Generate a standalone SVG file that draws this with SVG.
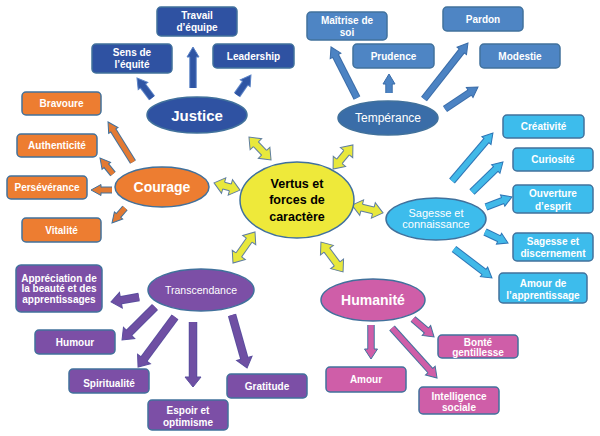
<svg xmlns="http://www.w3.org/2000/svg" width="600" height="436" viewBox="0 0 600 436">
<style>
text{font-family:"Liberation Sans",Arial,sans-serif;text-anchor:middle}
.bt{fill:#fff;font-size:10px;font-weight:bold}
.shape{stroke:#41719C;stroke-width:1.5}
.J{fill:#2F52A2}.T{fill:#4E85C4}.TE{fill:#3A6DA8}.S{fill:#3DBCEC}.C{fill:#ED7D31}.H{fill:#CF5EA8}.R{fill:#7C4FA6}.Y{fill:#EEE93A}
line{fill:none}
.uJ{stroke:#5B83C6;stroke-width:7.5}.fJ{stroke:#2F55A4;stroke-width:5.5;marker-end:url(#mJ)}
.uT{stroke:#3A6CA8;stroke-width:7.5}.fT{stroke:#4C83C3;stroke-width:5.5;marker-end:url(#mT)}
.uS{stroke:#2E75B6;stroke-width:7.5}.fS{stroke:#41B9E8;stroke-width:5.5;marker-end:url(#mS)}
.uC{stroke:#41719C;stroke-width:7}.fC{stroke:#E27A33;stroke-width:5;marker-end:url(#mC)}
.uH{stroke:#41719C;stroke-width:7.5}.fH{stroke:#CF5EA8;stroke-width:5.5;marker-end:url(#mH)}
.uR{stroke:#5A4E9E;stroke-width:8.5}.fR{stroke:#6F4FA3;stroke-width:6.5;marker-end:url(#mR)}
.uY{stroke:#5F7EA0;stroke-width:8}.fY{stroke:#E8E83C;stroke-width:6;marker-start:url(#mY);marker-end:url(#mY)}
</style>
<defs>
<marker id="mJ" markerUnits="userSpaceOnUse" viewBox="-2 -9 14 18" markerWidth="14" markerHeight="18" refX="1" refY="0" orient="auto"><path d="M0,-3 L0,-6 L10,0 L0,6 L0,3" fill="#2F55A4" stroke="#5B83C6" stroke-width="1"/></marker>
<marker id="mT" markerUnits="userSpaceOnUse" viewBox="-2 -9 14 18" markerWidth="14" markerHeight="18" refX="1" refY="0" orient="auto"><path d="M0,-3 L0,-6 L10,0 L0,6 L0,3" fill="#4C83C3" stroke="#3A6CA8" stroke-width="1"/></marker>
<marker id="mS" markerUnits="userSpaceOnUse" viewBox="-2 -9 14 18" markerWidth="14" markerHeight="18" refX="1" refY="0" orient="auto"><path d="M0,-3 L0,-6 L10,0 L0,6 L0,3" fill="#41B9E8" stroke="#2E75B6" stroke-width="1"/></marker>
<marker id="mC" markerUnits="userSpaceOnUse" viewBox="-2 -9 14 18" markerWidth="14" markerHeight="18" refX="1" refY="0" orient="auto"><path d="M0,-2.5 L0,-5.5 L10,0 L0,5.5 L0,2.5" fill="#E27A33" stroke="#41719C" stroke-width="1"/></marker>
<marker id="mH" markerUnits="userSpaceOnUse" viewBox="-2 -9 14 18" markerWidth="14" markerHeight="18" refX="1" refY="0" orient="auto"><path d="M0,-3 L0,-6.5 L10,0 L0,6.5 L0,3" fill="#CF5EA8" stroke="#41719C" stroke-width="1"/></marker>
<marker id="mR" markerUnits="userSpaceOnUse" viewBox="-2 -10 14 20" markerWidth="14" markerHeight="20" refX="1" refY="0" orient="auto"><path d="M0,-3.5 L0,-8 L10,0 L0,8 L0,3.5" fill="#6F4FA3" stroke="#5A4E9E" stroke-width="1"/></marker>
<marker id="mY" markerUnits="userSpaceOnUse" viewBox="-2 -10 14 20" markerWidth="14" markerHeight="20" refX="1" refY="0" orient="auto-start-reverse"><path d="M0,-3.5 L0,-8 L10,0 L0,8 L0,3.5" fill="#E8E83C" stroke="#5F7EA0" stroke-width="1"/></marker>
</defs>
<rect width="600" height="436" fill="#fff"/>

<g id="connectors">
<!-- Justice -->
<line class="uJ" x1="152" y1="98" x2="142.4" y2="85.2"/><line class="fJ" x1="152" y1="98" x2="142.4" y2="85.2"/>
<line class="uJ" x1="193" y1="88" x2="193" y2="56"/><line class="fJ" x1="193" y1="88" x2="193" y2="56"/>
<line class="uJ" x1="237" y1="95" x2="245.8" y2="82.4"/><line class="fJ" x1="237" y1="95" x2="245.8" y2="82.4"/>
<!-- Temperance -->
<line class="uT" x1="357" y1="98" x2="335.1" y2="55"/><line class="fT" x1="357" y1="98" x2="335.1" y2="55"/>
<line class="uT" x1="389" y1="93" x2="389" y2="83"/><line class="fT" x1="389" y1="93" x2="389" y2="83"/>
<line class="uT" x1="424" y1="99" x2="462.4" y2="50.1"/><line class="fT" x1="424" y1="99" x2="462.4" y2="50.1"/>
<line class="uT" x1="445" y1="109" x2="470.5" y2="92"/><line class="fT" x1="445" y1="109" x2="470.5" y2="92"/>
<!-- Sagesse -->
<line class="uS" x1="452" y1="181" x2="487.1" y2="139.8"/><line class="fS" x1="452" y1="181" x2="487.1" y2="139.8"/>
<line class="uS" x1="472" y1="192" x2="496.5" y2="168.3"/><line class="fS" x1="472" y1="192" x2="496.5" y2="168.3"/>
<line class="uS" x1="486" y1="207" x2="503.6" y2="200.2"/><line class="fS" x1="486" y1="207" x2="503.6" y2="200.2"/>
<line class="uS" x1="485" y1="232" x2="499.9" y2="239.1"/><line class="fS" x1="485" y1="232" x2="499.9" y2="239.1"/>
<line class="uS" x1="454" y1="249" x2="484.8" y2="272.5"/><line class="fS" x1="454" y1="249" x2="484.8" y2="272.5"/>
<!-- Courage -->
<line class="uC" x1="133" y1="162" x2="112.8" y2="129.6"/><line class="fC" x1="133" y1="162" x2="112.8" y2="129.6"/>
<line class="uC" x1="113" y1="174" x2="105.7" y2="165"/><line class="fC" x1="113" y1="174" x2="105.7" y2="165"/>
<line class="uC" x1="112" y1="190" x2="100" y2="190"/><line class="fC" x1="112" y1="190" x2="100" y2="190"/>
<line class="uC" x1="125" y1="208" x2="117.9" y2="216.2"/><line class="fC" x1="125" y1="208" x2="117.9" y2="216.2"/>
<!-- Humanite -->
<line class="uH" x1="371" y1="325" x2="371" y2="350"/><line class="fH" x1="371" y1="325" x2="371" y2="350"/>
<line class="uH" x1="392" y1="328" x2="431" y2="371.3"/><line class="fH" x1="392" y1="328" x2="431" y2="371.3"/>
<line class="uH" x1="413" y1="319" x2="427.2" y2="331.1"/><line class="fH" x1="413" y1="319" x2="427.2" y2="331.1"/>
<!-- Transcendance -->
<line class="uR" x1="139" y1="297" x2="119.9" y2="300.4"/><line class="fR" x1="139" y1="297" x2="119.9" y2="300.4"/>
<line class="uR" x1="155" y1="307" x2="128.4" y2="333.6"/><line class="fR" x1="155" y1="307" x2="128.4" y2="333.6"/>
<line class="uR" x1="175" y1="317" x2="143.4" y2="359.8"/><line class="fR" x1="175" y1="317" x2="143.4" y2="359.8"/>
<line class="uR" x1="193" y1="322" x2="193" y2="378"/><line class="fR" x1="193" y1="322" x2="193" y2="378"/>
<line class="uR" x1="232" y1="315" x2="244.6" y2="359.3"/><line class="fR" x1="232" y1="315" x2="244.6" y2="359.3"/>
<!-- Yellow double arrows -->
<line class="uY" x1="255.2" y1="143.5" x2="264.8" y2="153.5"/><line class="fY" x1="255.2" y1="143.5" x2="264.8" y2="153.5"/>
<line class="uY" x1="347.2" y1="151.9" x2="338.8" y2="162.1"/><line class="fY" x1="347.2" y1="151.9" x2="338.8" y2="162.1"/>
<line class="uY" x1="222.7" y1="185.3" x2="231.3" y2="187.7"/><line class="fY" x1="222.7" y1="185.3" x2="231.3" y2="187.7"/>
<line class="uY" x1="360.7" y1="207.3" x2="374.3" y2="210.7"/><line class="fY" x1="360.7" y1="207.3" x2="374.3" y2="210.7"/>
<line class="uY" x1="249.8" y1="239.3" x2="238.2" y2="255.7"/><line class="fY" x1="249.8" y1="239.3" x2="238.2" y2="255.7"/>
<line class="uY" x1="326.3" y1="249.3" x2="337.7" y2="264.7"/><line class="fY" x1="326.3" y1="249.3" x2="337.7" y2="264.7"/>
</g>

<g id="center"><ellipse class="shape Y" cx="297" cy="200" rx="57" ry="38"/>
<text font-size="12.5" font-weight="bold" fill="#000"><tspan x="297" y="187.5">Vertus et</tspan><tspan x="297" y="204">forces de</tspan><tspan x="297" y="220.5">caractère</tspan></text></g>

<g id="justice"><ellipse class="shape J" cx="197" cy="115" rx="50" ry="18"/><text x="197" y="120.5" font-size="15" font-weight="bold" fill="#fff">Justice</text></g>
<g id="sens-equite"><rect class="shape J" x="92" y="44" width="80" height="29" rx="4"/><text class="bt"><tspan x="132" y="56">Sens de</tspan><tspan x="132" y="68">l’équité</tspan></text></g>
<g id="travail-equipe"><rect class="shape J" x="157" y="7" width="80" height="29" rx="4"/><text class="bt"><tspan x="197" y="19">Travail</tspan><tspan x="197" y="31">d’équipe</tspan></text></g>
<g id="leadership"><rect class="shape J" x="213" y="44" width="81" height="24" rx="4"/><text class="bt" x="253.5" y="59.5">Leadership</text></g>

<g id="temperance"><ellipse class="shape TE" cx="388" cy="118" rx="50" ry="17"/><text x="388" y="122" font-size="12" fill="#fff">Tempérance</text></g>
<g id="maitrise"><rect class="shape T" x="307" y="12" width="80" height="28" rx="4"/><text class="bt"><tspan x="347" y="23.5">Maîtrise de</tspan><tspan x="347" y="35.5">soi</tspan></text></g>
<g id="prudence"><rect class="shape T" x="353" y="44" width="81" height="24" rx="4"/><text class="bt" x="393.5" y="59.5">Prudence</text></g>
<g id="pardon"><rect class="shape T" x="443" y="7" width="80" height="24" rx="4"/><text class="bt" x="483" y="22.5">Pardon</text></g>
<g id="modestie"><rect class="shape T" x="480" y="44" width="80" height="24" rx="4"/><text class="bt" x="520" y="59.5">Modestie</text></g>

<g id="sagesse"><ellipse class="shape S" cx="436" cy="219" rx="50" ry="21"/><text font-size="11" fill="#fff"><tspan x="436" y="216.5">Sagesse et</tspan><tspan x="436" y="228">connaissance</tspan></text></g>
<g id="creativite"><rect class="shape S" x="503" y="115" width="81" height="23" rx="4"/><text class="bt" x="543.5" y="130">Créativité</text></g>
<g id="curiosite"><rect class="shape S" x="513" y="148" width="80" height="23" rx="4"/><text class="bt" x="553" y="163">Curiosité</text></g>
<g id="ouverture"><rect class="shape S" x="513" y="185" width="80" height="28" rx="4"/><text class="bt"><tspan x="553" y="197">Ouverture</tspan><tspan x="553" y="209.5">d’esprit</tspan></text></g>
<g id="discernement"><rect class="shape S" x="513" y="233" width="80" height="28" rx="4"/><text class="bt"><tspan x="553" y="244.5">Sagesse et</tspan><tspan x="553" y="256.5">discernement</tspan></text></g>
<g id="amour-apprentissage"><rect class="shape S" x="499" y="273" width="88" height="30" rx="4"/><text class="bt"><tspan x="543" y="287">Amour de</tspan><tspan x="543" y="298.5">l’apprentissage</tspan></text></g>

<g id="courage"><ellipse class="shape C" cx="162" cy="187" rx="47" ry="20"/><text x="162" y="192" font-size="14" font-weight="bold" fill="#fff">Courage</text></g>
<g id="bravoure"><rect class="shape C" x="22" y="92" width="79" height="23" rx="4"/><text class="bt" x="61.5" y="107">Bravoure</text></g>
<g id="authenticite"><rect class="shape C" x="17" y="134" width="80" height="23" rx="4"/><text class="bt" x="57" y="149">Authenticité</text></g>
<g id="perseverance"><rect class="shape C" x="7" y="176" width="80" height="23" rx="4"/><text class="bt" x="47" y="191">Persévérance</text></g>
<g id="vitalite"><rect class="shape C" x="22" y="218" width="79" height="24" rx="4"/><text class="bt" x="61.5" y="233.5">Vitalité</text></g>

<g id="humanite"><ellipse class="shape H" cx="373" cy="300" rx="52" ry="21"/><text x="373" y="305" font-size="14" font-weight="bold" fill="#fff">Humanité</text></g>
<g id="bonte"><rect class="shape H" x="438" y="335" width="80" height="23" rx="4"/><text class="bt"><tspan x="478" y="345.5">Bonté</tspan><tspan x="478" y="356">gentillesse</tspan></text></g>
<g id="amour"><rect class="shape H" x="326" y="367" width="80" height="25" rx="4"/><text class="bt" x="366" y="383">Amour</text></g>
<g id="intelligence"><rect class="shape H" x="419" y="387" width="80" height="27" rx="4"/><text class="bt"><tspan x="459" y="399.5">Intelligence</tspan><tspan x="459" y="410.5">sociale</tspan></text></g>

<g id="transcendance"><ellipse class="shape R" cx="201" cy="290" rx="53" ry="21"/><text x="201" y="294" font-size="10.5" fill="#fff">Transcendance</text></g>
<g id="appreciation"><rect class="shape R" x="16" y="265" width="86" height="47" rx="5"/><text class="bt" font-size="9"><tspan x="59" y="281.5">Appréciation de</tspan><tspan x="59" y="292">la beauté et des</tspan><tspan x="59" y="302.5">apprentissages</tspan></text></g>
<g id="humour"><rect class="shape R" x="35" y="330" width="80" height="24" rx="4"/><text class="bt" x="75" y="346">Humour</text></g>
<g id="spiritualite"><rect class="shape R" x="69" y="369" width="80" height="24" rx="4"/><text class="bt" x="109" y="386.5">Spiritualité</text></g>
<g id="espoir"><rect class="shape R" x="148" y="400" width="80" height="30" rx="4"/><text class="bt"><tspan x="188" y="414">Espoir et</tspan><tspan x="188" y="425.5">optimisme</tspan></text></g>
<g id="gratitude"><rect class="shape R" x="227" y="374" width="80" height="24" rx="4"/><text class="bt" x="267" y="390">Gratitude</text></g>
</svg>
